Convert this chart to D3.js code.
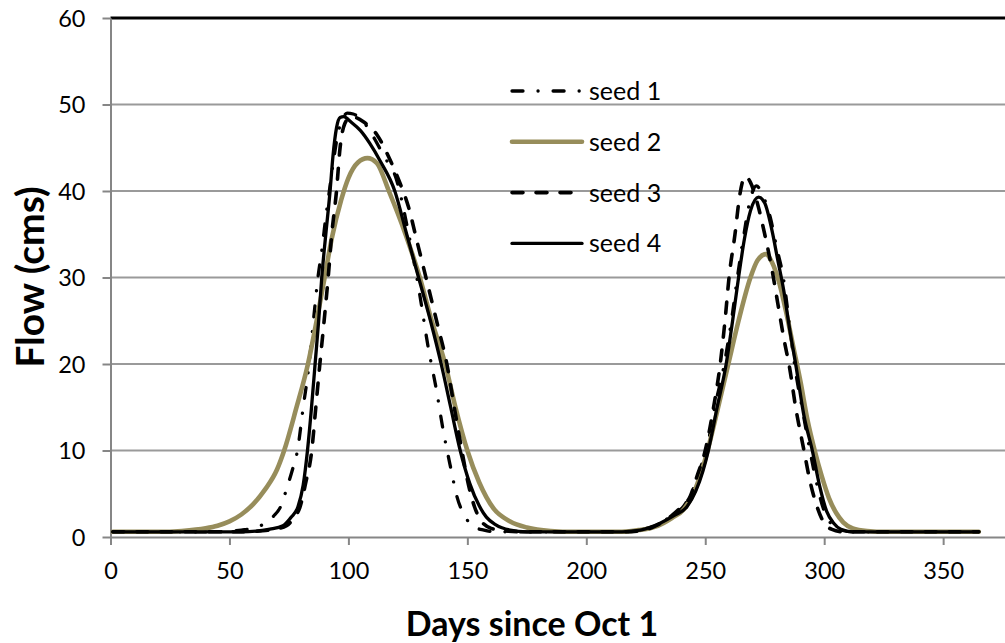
<!DOCTYPE html>
<html>
<head>
<meta charset="utf-8">
<script src="https://cdn.jsdelivr.net/npm/d3@7"></script>
<style>
  body { margin: 0; background: #fff; }
  svg { display: block; }
</style>
</head>
<body>
<svg id="chart" width="1005" height="643"></svg>
<script>
// tick labels
const xTicks = [0, 50, 100, 150, 200, 250, 300, 350];
const yTicks = [0, 10, 20, 30, 40, 50, 60];

const seriesNames = ["seed 1", "seed 2", "seed 3", "seed 4"];

// [day since Oct 1, flow in cms]
const seed1 = [
  [1, 0.6], [45, 0.6], [55, 0.8], [61, 1.1], [65.4, 1.65], [68.5, 2.4], [71.3, 3.4], [74.3, 5.8],
  [76.5, 7.8], [78.6, 10], [81, 15], [83.5, 20], [85.3, 25], [87.2, 30], [89, 33.5], [90.5, 37],
  [92, 40], [94, 44], [95.5, 46.5], [97.5, 48.3], [99.5, 49], [102, 48.9], [105, 48.4], [110, 46.5],
  [115, 44], [120, 41.5], [125, 35.5], [130, 28], [133.5, 22], [137, 17], [139.8, 12.4], [143, 8],
  [145.6, 4.7], [149, 2.4], [152.5, 1.2], [157, 0.8], [162, 0.6], [215, 0.6], [222, 0.8], [230, 1.4],
  [236, 2.5], [241, 3.6], [245, 5.6], [248, 8], [250.5, 10], [254, 15], [258, 20], [261, 25],
  [263.5, 30], [266, 34.5], [268.5, 38.5], [271.5, 40.6], [274, 39.6], [277.3, 37], [280, 33.5], [282.8, 30],
  [285, 25.5], [287.5, 20], [291, 14.5], [294, 10], [297, 6], [300, 3], [303, 1.5], [307, 0.8],
  [312, 0.6], [365, 0.6]
];

const seed2 = [
  [1, 0.6], [20, 0.6], [30, 0.7], [40, 1.0], [45, 1.3], [50, 1.8], [55, 2.6], [60, 3.8],
  [65, 5.5], [70, 7.8], [73, 10], [78, 14.8], [83, 20], [87, 25.5], [90, 30], [93, 34.5],
  [97, 39], [100, 41.5], [104, 43.3], [108, 43.8], [112, 43.2], [117, 40], [124, 35], [130, 30],
  [135, 25], [140.7, 20], [145, 15], [150, 10], [155, 6.3], [161, 3.3], [168, 1.8], [175, 1.1],
  [185, 0.7], [195, 0.6], [215, 0.6], [222, 0.8], [230, 1.3], [236, 2.2], [241, 3.2], [245, 5.0],
  [248, 7.2], [251, 10], [255, 14.5], [259.7, 20], [264, 25], [269, 30], [272, 32], [275.5, 32.7],
  [278, 31.8], [281, 29.5], [284, 26], [287, 22], [290, 18], [293, 13.5], [296, 10], [299, 7],
  [302, 4.5], [305, 2.8], [308, 1.7], [312, 1.0], [318, 0.7], [326, 0.6], [365, 0.6]
];

const seed3 = [
  [1, 0.6], [55, 0.6], [63, 0.7], [69, 0.9], [74, 1.3], [77, 2.2], [79.7, 3.5], [82, 6.2],
  [84.6, 10], [86.3, 15], [88, 20], [89.8, 25], [91.5, 30], [93, 35], [95, 40], [96.5, 45],
  [98.5, 47.8], [101, 48.6], [103, 48.5], [106.3, 48], [112, 46.5], [117.5, 43.6], [121.7, 40.9], [125.2, 38.2],
  [129, 34], [133.5, 29], [137.5, 24.5], [141.4, 20], [144.5, 15], [147.7, 10], [150.5, 6], [153, 3.5],
  [156, 1.8], [160, 1.0], [166, 0.7], [175, 0.6], [215, 0.6], [222, 0.7], [230, 1.4], [236, 2.5],
  [240, 3.5], [243.7, 4.7], [246.5, 7], [250, 10], [253.5, 15], [256.3, 20], [258.3, 25], [260, 30],
  [262.5, 35], [264.5, 39.5], [266.8, 41.7], [269, 41], [272, 38.5], [275, 35], [278, 31], [280.5, 27],
  [283, 23], [285.5, 19.5], [288, 15], [291.5, 10], [294, 6.5], [297, 3.5], [300, 1.6], [303, 0.9],
  [308, 0.6], [365, 0.6]
];

const seed4 = [
  [1, 0.6], [40, 0.6], [55, 0.6], [62, 0.7], [67, 0.9], [72.5, 1.3], [76, 2.3], [78.8, 3.5],
  [81, 6], [82.8, 10], [84.5, 15], [86, 20], [87.5, 25], [88.8, 30], [90.5, 35], [92.3, 40],
  [93.5, 44], [95, 47.3], [96.5, 48.5], [98, 48.6], [101, 48], [105, 47], [109, 45.5], [113.3, 43.5],
  [119.5, 40], [124.5, 35], [129.5, 30], [134.5, 25], [139, 20], [143, 15], [147, 10], [151, 6.2],
  [155, 3.6], [158, 2.3], [162, 1.4], [168, 0.8], [175, 0.6], [215, 0.6], [222.7, 0.8], [231, 1.6],
  [237, 2.5], [242.3, 3.5], [246, 5.3], [249, 7.6], [251.3, 10], [255, 15], [258.8, 20], [261.5, 25],
  [264, 30], [266.5, 34.5], [269, 37.7], [272.4, 39.3], [275, 38.6], [278, 35.5], [280.5, 32], [283, 28.5],
  [285.5, 24], [288, 20], [291.5, 14], [295, 10], [298, 6], [301, 3], [304, 1.6], [307, 0.9],
  [312, 0.6], [365, 0.6]
];

const seriesData = [seed1, seed2, seed3, seed4];

// line looks, same order as the series
const styles = [
  { color: "#000", width: 3.3, dash: "11,15,0.1,15" },
  { color: "#978d5b", width: 4.6, dash: null },
  { color: "#000", width: 3.6, dash: "11,13" },
  { color: "#000", width: 3.3, dash: null }
];

const svg = d3.select("#chart"),
  width = +svg.attr("width"),
  height = +svg.attr("height");

svg.append("rect").attr("width", width).attr("height", height).attr("fill", "#fff");

const x = d3.scaleLinear().domain([0, 376]).range([110.5, 1005]);
const y = d3.scaleLinear().domain([0, 60]).range([537, 18]);

// horizontal gridlines
svg.append("g")
  .selectAll("line")
  .data(yTicks.filter((d) => d > 0))
  .join("line")
  .attr("x1", x(0))
  .attr("x2", width)
  .attr("y1", (d) => y(d))
  .attr("y2", (d) => y(d))
  .attr("stroke", (d) => (d === 60 ? "#000" : "#9a9a9a"))
  .attr("stroke-width", (d) => (d === 60 ? 3 : 2));

// y axis
const yAxis = svg.append("g")
  .attr("transform", `translate(${x(0)},0)`)
  .call(d3.axisLeft(y).tickValues(yTicks).tickSize(8).tickSizeOuter(0).tickPadding(17));

// x axis
const xAxis = svg.append("g")
  .attr("transform", `translate(0,${y(0)})`)
  .call(d3.axisBottom(x).tickValues(xTicks).tickSize(8).tickSizeOuter(0));

[yAxis, xAxis].forEach((ax) => {
  ax.select(".domain").attr("stroke", "#868686").attr("stroke-width", 2);
  ax.selectAll(".tick line").attr("stroke", "#868686").attr("stroke-width", 2);
  ax.selectAll(".tick text")
    .attr("fill", "#000")
    .style("font-family", "Lato, 'Open Sans', sans-serif")
    .style("font-size", "23.5px");
});
yAxis.selectAll(".tick text").attr("dy", "0.36em");
xAxis.selectAll(".tick text").attr("y", 42).attr("dy", null);

// series lines
const line = d3.line()
  .x((d) => x(d[0]))
  .y((d) => y(d[1]))
  .curve(d3.curveMonotoneX);

svg.append("g")
  .selectAll("path")
  .data(seriesData)
  .join("path")
  .attr("d", line)
  .attr("fill", "none")
  .attr("stroke", (d, i) => styles[i].color)
  .attr("stroke-width", (d, i) => styles[i].width)
  .attr("stroke-dasharray", (d, i) => styles[i].dash)
  .attr("stroke-linecap", "round")
  .attr("stroke-linejoin", "round");

// legend
const legend = svg.append("g")
  .selectAll("g")
  .data(seriesNames)
  .join("g")
  .attr("transform", (d, i) => `translate(512,${91 + i * 50.8})`);

legend.append("line")
  .attr("x1", 0)
  .attr("x2", 70)
  .attr("stroke", (d, i) => styles[i].color)
  .attr("stroke-width", (d, i) => styles[i].width)
  .attr("stroke-dasharray", (d, i) => styles[i].dash)
  .attr("stroke-linecap", "round");

legend.append("text")
  .attr("x", 77)
  .attr("dy", "0.36em")
  .text((d) => d)
  .style("font-family", "Lato, 'Open Sans', sans-serif")
  .style("font-size", "25px");

// axis titles
svg.append("text")
  .attr("x", 532)
  .attr("y", 636)
  .attr("text-anchor", "middle")
  .style("font-family", "Lato, 'Open Sans', sans-serif")
  .style("font-weight", "bold")
  .style("font-size", "34px")
  .text("Days since Oct 1");

svg.append("text")
  .attr("transform", "translate(44,277) rotate(-90)")
  .attr("text-anchor", "middle")
  .style("font-family", "Lato, 'Open Sans', sans-serif")
  .style("font-weight", "bold")
  .style("font-size", "39px")
  .text("Flow (cms)");
</script>
</body>
</html>
